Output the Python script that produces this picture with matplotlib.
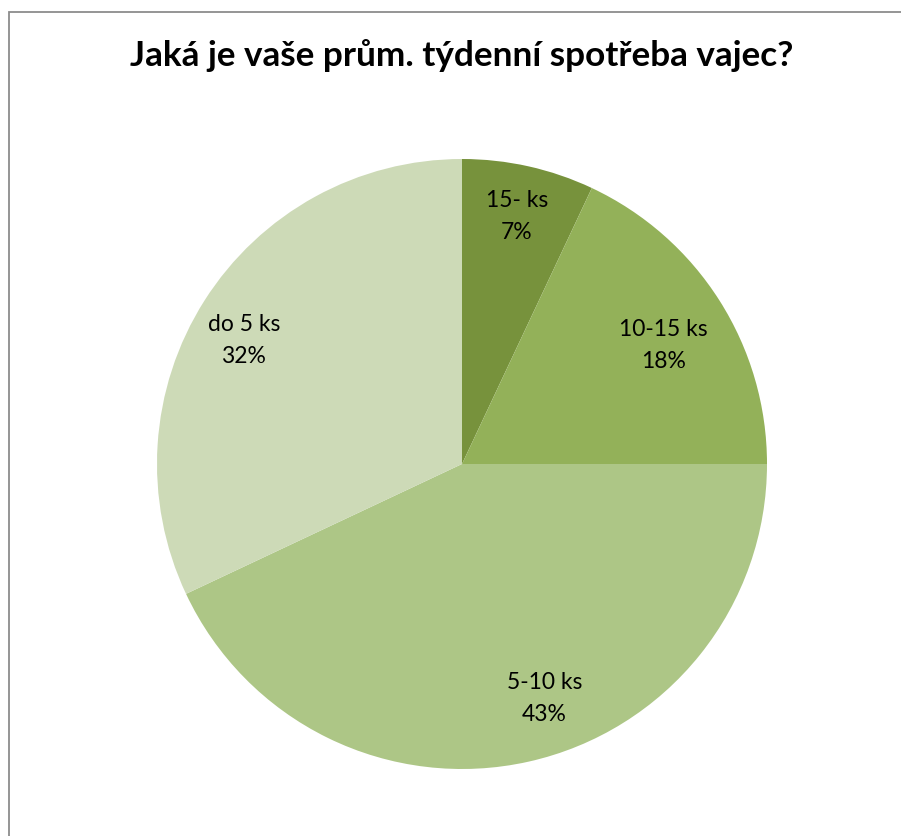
import matplotlib
matplotlib.use('Agg')
import matplotlib.pyplot as plt
from matplotlib.patches import Rectangle

# odpovede z dotazniku
categories = ['15- ks', '10-15 ks', '5-10 ks', 'do 5 ks']
shares = [7, 18, 43, 32]
colors = ['#77923C', '#93B159', '#ADC686', '#CDDAB7']

# umiestnenie popisov (v polomeroch od stredu)
label_pos = [(0.18, 0.81), (0.66, 0.39), (0.27, -0.77), (-0.715, 0.405)]

W, H = 901, 836
fig = plt.figure(figsize=(W / 100, H / 100), dpi=100)
fig.patch.set_facecolor('white')

# ramik okolo grafu
fig.add_artist(Rectangle((8.5 / W, -0.05), 1.2, (H - 12.5) / H + 0.05,
                         transform=fig.transFigure, fill=False,
                         edgecolor='#8c8c8c', lw=1.3))

cx, cy, R = 462, 464, 305
ax = fig.add_axes([(cx - R) / W, (H - cy - R) / H, 2 * R / W, 2 * R / H])
ax.pie(shares, colors=colors, startangle=90, counterclock=False,
       radius=1, wedgeprops=dict(linewidth=0))
ax.set_xlim(-1, 1)
ax.set_ylim(-1, 1)
ax.set_aspect('auto')
ax.axis('off')

for cat, val, (x, y) in zip(categories, shares, label_pos):
    ax.text(x, y, f'{cat}\n{val}%', ha='center', va='center',
            fontsize=16.5, family='Lato', linespacing=1.65, color='black')

fig.text(462 / W, 1 - 56 / H, 'Jaká je vaše prům. týdenní spotřeba vajec?',
         ha='center', va='center', fontsize=25.3, fontweight='bold',
         family='Lato')

fig.savefig('out.png', dpi=100)
